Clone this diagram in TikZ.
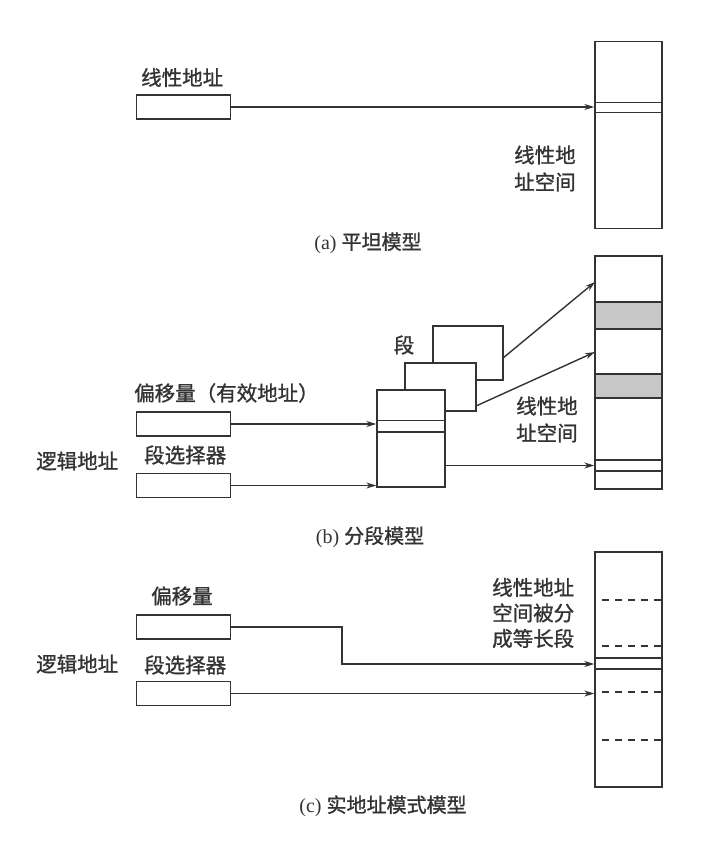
\documentclass[tikz,border=0pt]{standalone}
\usepackage{fontspec}
\setmainfont{Liberation Serif}
\newfontfamily\cjk{Noto Sans CJK SC}[RawFeature={embolden=1.2}]
\usetikzlibrary{arrows.meta}
\begin{document}
\begin{tikzpicture}[x=1pt,y=-1pt,
  ln/.style={draw=black!80,line width=1.4pt},
  reg/.style={ln,minimum width=94pt,minimum height=24pt,inner sep=0pt},
  colbox/.style={ln,minimum width=67pt,inner sep=0pt},
  segbox/.style={ln,fill=white,inner sep=0pt},
  arr/.style={ln,-{Stealth[length=10pt,width=6pt]}},
  lbl/.style={font=\cjk\fontsize{20.5}{27}\selectfont,text=black!80,inner sep=0pt,align=left},
  captxt/.style={font=\fontsize{20}{24}\selectfont,text=black!80,inner sep=0pt}]
\useasboundingbox (0,0) rectangle (720,843);
% ---------- (a)
\node[reg] (la) at (183.5,107) {};
\node[colbox,minimum height=187pt] (colA) at (628.5,135) {};
\draw[ln] (595,102.5) -- (662,102.5) (595,112.5) -- (662,112.5);
\draw[arr] (la.east) -- (la.east -| colA.west);
\node[lbl,anchor=west] (tla) at (141,77.5) {线性地址};
\node[lbl,anchor=west] (tsa) at (514,168.5) {线性地\\址空间};
\node[captxt] (capa) at (368,243) {(a) {\cjk 平坦模型}};
% ---------- (b)
\node[colbox,minimum height=233pt] (colB) at (628.5,372.5) {};
\filldraw[ln,fill=black!22] (595,302) rectangle (662,329);
\filldraw[ln,fill=black!22] (595,374) rectangle (662,398);
\draw[ln] (595,460) -- (662,460) (595,471) -- (662,471);
\node[segbox,minimum width=70pt,minimum height=54pt] (s3) at (468,353) {};
\node[segbox,minimum width=71pt,minimum height=48pt] (s2) at (440.5,387) {};
\node[segbox,minimum width=68pt,minimum height=97pt] (s1) at (411,438.5) {};
\draw[ln] (377,420.5) -- (445,420.5) (377,432) -- (445,432);
\node[reg] (ob) at (183.5,424) {};
\node[reg] (sb) at (183.5,485.5) {};
\draw[arr] (ob.east) -- (ob.east -| s1.west);
\draw[arr] (sb.east) -- (sb.east -| s1.west);
\coordinate (p3) at (503,358);
\coordinate (q3) at (595,282);
\coordinate (p2) at (476,406);
\coordinate (q2) at (595,352);
\coordinate (p1) at (445,465.5);
\draw[arr] (p3) -- (q3);
\draw[arr] (p2) -- (q2);
\draw[arr] (p1) -- (p1 -| colB.west);
\node[lbl] (tseg) at (404,345) {段};
\node[lbl,anchor=west] (tob) at (134,393) {偏移量（有效地址）};
\node[lbl,anchor=west] (tsb) at (144,455) {段选择器};
\node[lbl,anchor=west] (tlb) at (36,461) {逻辑地址};
\node[lbl,anchor=west] (tsb2) at (516,419.5) {线性地\\址空间};
\node[captxt] (capb) at (370,537) {(b) {\cjk 分段模型}};
% ---------- (c)
\node[colbox,minimum height=235pt] (colC) at (628.5,669.5) {};
\foreach \yy in {600,646,692,740} \draw[ln,dash pattern=on 7pt off 6pt] (602,\yy) -- (662,\yy);
\draw[ln] (595,658) -- (662,658) (595,669) -- (662,669);
\node[reg] (oc) at (183.5,627) {};
\node[reg] (sc) at (183.5,693.5) {};
\coordinate (bend) at (342,664);
\draw[arr] (oc.east) -| (bend) -- (bend -| colC.west);
\draw[arr] (sc.east) -- (sc.east -| colC.west);
\node[lbl,anchor=west] (toc) at (151,596) {偏移量};
\node[lbl,anchor=west] (tsc) at (144,665) {段选择器};
\node[lbl,anchor=west] (tlc) at (36,664) {逻辑地址};
\node[lbl,anchor=west,font=\cjk\fontsize{20.5}{25.5}\selectfont] (tsc2) at (492,613) {线性地址\\空间被分\\成等长段};
\node[captxt] (capc) at (383,806) {(c) {\cjk 实地址模式模型}};
\end{tikzpicture}
\end{document}
